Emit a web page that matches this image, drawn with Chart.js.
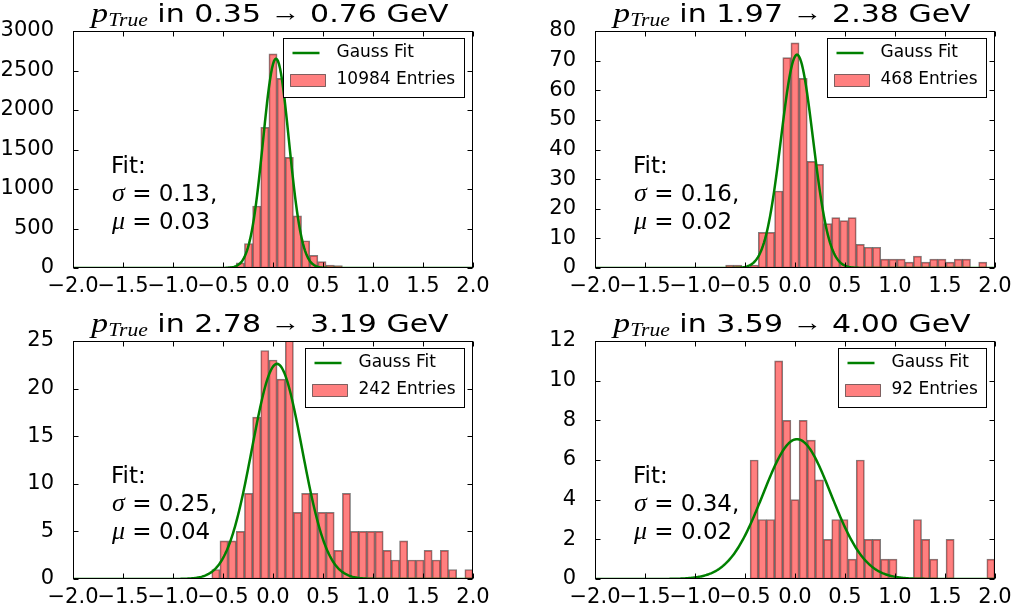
<!DOCTYPE html>
<html><head><meta charset="utf-8">
<script src="https://cdn.jsdelivr.net/npm/chart.js@4.4.1/dist/chart.umd.min.js"></script>
<style>
html,body{margin:0;padding:0;background:#fff;}
#wrap{position:relative;width:1014px;height:614px;overflow:hidden;background:#fff;}
.panel{position:absolute;width:507px;height:307px;}
canvas{display:block;}
</style></head><body>
<div id="wrap">
<div class="panel" style="left:0;top:0"><canvas id="c0" width="507" height="307"></canvas></div>
<div class="panel" style="left:507px;top:0"><canvas id="c1" width="507" height="307"></canvas></div>
<div class="panel" style="left:0;top:307px"><canvas id="c2" width="507" height="307"></canvas></div>
<div class="panel" style="left:507px;top:307px"><canvas id="c3" width="507" height="307"></canvas></div>
</div>
<script>
// ---- histogram binning (49 equal bins from -2 to 2) ----
const binMin = -2.0;
const binMax = 2.0;
const binCount = 49;

// ---- histogram counts per panel (bin 0 .. bin 48) ----
const countsP1 = [0,0,0,0,0,0,0,0,0,0,0,0,0,0,0,0,0,0,0,
  17,65,310,785,1780,2710,2400,1400,660,345,160,80,38,30,
  0,0,0,0,0,0,0,0,0,0,0,0,0,0,0,0];
const countsP2 = [0,0,0,0,0,0,0,0,0,0,0,0,0,0,0,0,
  1,1,0,1,12,12,26,71,76,64,36,35,15,17,16,17,8,7,7,3,3,3,2,4,2,3,3,2,3,3,0,2,0];
const countsP3 = [0,0,0,0,0,0,0,0,0,0,0,0,0,0,0,0,0,
  1,4,4,5,9,17,24,23,21,27,7,9,9,7,7,3,9,5,5,5,5,3,2,4,2,2,3,2,3,1,0,1];
const countsP4 = [0,0,0,0,0,0,0,0,0,0,0,0,0,0,0,0,0,0,0,
  6,3,3,11,8,4,8,7,5,2,3,3,1,6,2,2,1,1,0,0,3,2,1,0,2,0,0,0,0,1];

// ---- panel texts ----
const pLow = [0.35, 1.97, 2.78, 3.59];
const pHigh = [0.76, 2.38, 3.19, 4.00];
const entries = [10984, 468, 242, 92];

// ---- Gauss fit parameters ----
const fitAmp = [2650, 72, 22.6, 7.05];
const fitMu = [0.03, 0.02, 0.04, 0.02];
const fitSigma = [0.13, 0.16, 0.25, 0.34];

// ---- ticks ----
const xTickValues = [-2, -1.5, -1, -0.5, 0, 0.5, 1, 1.5, 2];
const xTickLabels = ['\u22122.0','\u22121.5','\u22121.0','\u22120.5','0.0','0.5','1.0','1.5','2.0'];
const yTicksP1 = [0, 500, 1000, 1500, 2000, 2500, 3000];
const yTicksP2 = [0, 10, 20, 30, 40, 50, 60, 70, 80];
const yTicksP3 = [0, 5, 10, 15, 20, 25];
const yTicksP4 = [0, 2, 4, 6, 8, 10, 12];

const allCounts = [countsP1, countsP2, countsP3, countsP4];
const allYTicks = [yTicksP1, yTicksP2, yTicksP3, yTicksP4];

// plot-area rectangles inside each 507x307 canvas [left, top, right, bottom]
const plotRects = [[73,31,473,268],[88,31,488,268],[73,34,473,272],[88,34,488,272]];

Chart.defaults.font.family = '"DejaVu Sans", sans-serif';
Chart.defaults.color = '#000';

const decor = {
  id: 'decor',
  afterDatasetsDraw(chart, args, opts) {
    const ctx = chart.ctx, a = chart.chartArea;
    const xs = chart.scales.x, ys = chart.scales.y;
    const i = opts.idx;
    ctx.save();
    // frame
    ctx.strokeStyle = '#000'; ctx.lineWidth = 1;
    const l = Math.round(a.left) + 0.5, r = Math.round(a.right) - 0.5;
    const t = Math.round(a.top) + 0.5, b = Math.round(a.bottom) - 0.5;
    ctx.strokeRect(l, t, r - l, b - t);
    // inward ticks on all sides
    ctx.beginPath();
    xTickValues.forEach(v => {
      const p = Math.round(xs.getPixelForValue(v)) + 0.5;
      ctx.moveTo(p, b); ctx.lineTo(p, b - 5);
      ctx.moveTo(p, t); ctx.lineTo(p, t + 5);
    });
    allYTicks[i].forEach(v => {
      const p = Math.round(ys.getPixelForValue(v)) + 0.5;
      ctx.moveTo(l, p); ctx.lineTo(l + 5, p);
      ctx.moveTo(r, p); ctx.lineTo(r - 5, p);
    });
    ctx.stroke();

    // legend
    const ds = chart.data.datasets;
    ctx.font = '17px "DejaVu Sans"';
    const tw = Math.max(...ds.map(d => ctx.measureText(d.label).width));
    const bw = Math.round(54 + tw + 8), bh = 59;
    const bx = Math.round(a.right - 9 - bw) + 0.5, by = Math.round(a.top + 7) + 0.5;
    ctx.fillStyle = '#fff';
    ctx.fillRect(bx, by, bw, bh);
    ctx.strokeStyle = '#000'; ctx.lineWidth = 1;
    ctx.strokeRect(bx, by, bw, bh);
    ctx.strokeStyle = ds[0].borderColor; ctx.lineWidth = ds[0].borderWidth;
    ctx.beginPath(); ctx.moveTo(bx + 9, by + 14.5); ctx.lineTo(bx + 36, by + 14.5); ctx.stroke();
    ctx.fillStyle = ds[1].backgroundColor;
    ctx.fillRect(bx + 7, by + 36, 35, 12);
    ctx.strokeStyle = 'rgba(0,0,0,0.5)'; ctx.lineWidth = 1;
    ctx.strokeRect(bx + 7, by + 36, 35, 12);
    ctx.fillStyle = '#000'; ctx.textBaseline = 'middle'; ctx.textAlign = 'left';
    ctx.fillText(ds[0].label, bx + 53, by + 14.5);
    ctx.fillText(ds[1].label, bx + 53, by + 41.5);

    // fit text
    const fx = a.left + 38;
    ctx.textBaseline = 'alphabetic';
    ctx.font = '23px "DejaVu Sans"';
    ctx.fillText('Fit:', fx, a.top + 142);
    const sym = ['\u03C3', '\u03BC'];
    const vals = [fitSigma[i].toFixed(2) + ',', fitMu[i].toFixed(2)];
    for (let k = 0; k < 2; k++) {
      const y = a.top + 170 + 28 * k;
      ctx.font = 'italic 26px "Liberation Serif"';
      ctx.fillText(sym[k], fx + 1, y);
      const w = ctx.measureText(sym[k]).width;
      ctx.font = '23px "DejaVu Sans"';
      ctx.fillText(' = ' + vals[k], fx + 1 + w, y);
    }

    // title
    const sx = 1.2;
    const parts = [
      {t: 'p', f: 'italic 28px "Liberation Serif"', dy: 0},
      {t: 'True', f: 'italic 18px "Liberation Serif"', dy: 4},
      {t: ' in ' + pLow[i].toFixed(2) + ' ', f: '25px "DejaVu Sans"', dy: 0},
      {t: '\u2192', f: '25px "Liberation Serif"', dy: -1},
      {t: ' ' + pHigh[i].toFixed(2) + ' GeV', f: '25px "DejaVu Sans"', dy: 0}
    ];
    let total = 0;
    parts.forEach(p => { ctx.font = p.f; p.w = ctx.measureText(p.t).width; total += p.w; });
    ctx.save();
    ctx.translate((a.left + a.right) / 2 - 3, a.top - 9);
    ctx.scale(sx, 1);
    let x = -total / 2;
    parts.forEach(p => { ctx.font = p.f; ctx.fillText(p.t, x, p.dy); x += p.w; });
    ctx.restore();

    ctx.restore();
  }
};

const binWidth = (binMax - binMin) / binCount;
const fitStep = 0.01;

function makeChart(i) {
  const counts = allCounts[i];
  const hist = counts.map((c, k) => ({x: binMin + (k + 0.5) * binWidth, y: c}));
  const gauss = [];
  for (let n = 0; n <= Math.round((binMax - binMin) / fitStep); n++) {
    const x = binMin + n * fitStep;
    gauss.push({x: x, y: fitAmp[i] * Math.exp(-0.5 * Math.pow((x - fitMu[i]) / fitSigma[i], 2))});
  }
  const rc = plotRects[i];
  const yt = allYTicks[i];
  return new Chart(document.getElementById('c' + i), {
    type: 'bar',
    data: {
      datasets: [
        {type: 'line', label: 'Gauss Fit', data: gauss, borderColor: '#008000', borderWidth: 2.5,
         pointRadius: 0, fill: false, tension: 0, order: 0},
        {type: 'bar', label: entries[i] + ' Entries', data: hist,
         backgroundColor: 'rgba(255,0,0,0.5)', borderColor: 'rgba(0,0,0,0.5)',
         borderWidth: ctx => (ctx.raw && ctx.raw.y > 0 ? 1 : 0),
         barPercentage: 1, categoryPercentage: 1, borderSkipped: false, order: 1}
      ]
    },
    options: {
      responsive: false, animation: false,
      layout: {padding: {left: 0, top: rc[1], right: 507 - rc[2], bottom: 0}},
      plugins: {legend: {display: false}, tooltip: {enabled: false}, title: {display: false}, decor: {idx: i}},
      scales: {
        x: {type: 'linear', min: binMin, max: binMax, offset: false,
            grid: {display: false}, border: {display: false},
            afterBuildTicks: s => { s.ticks = xTickValues.map(v => ({value: v})); },
            afterFit: s => { s.height = 307 - rc[3]; },
            ticks: {autoSkip: false, maxRotation: 0, minRotation: 0, padding: -2,
                    font: {size: 21}, color: '#000',
                    callback: (v, k) => xTickLabels[k]}},
        y: {type: 'linear', min: 0, max: yt[yt.length - 1],
            grid: {display: false}, border: {display: false},
            afterBuildTicks: s => { s.ticks = yt.map(v => ({value: v})); },
            afterFit: s => { s.width = rc[0]; },
            ticks: {autoSkip: false, padding: 11, font: {size: 21}, color: '#000',
                    callback: (v, k) => String(yt[k])}}
      }
    },
    plugins: [decor]
  });
}
[0, 1, 2, 3].forEach(makeChart);
</script>
</body></html>
